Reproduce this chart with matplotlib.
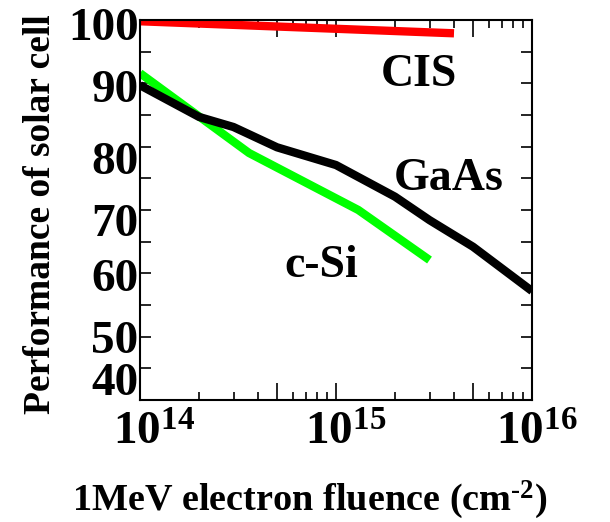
import matplotlib
matplotlib.use("Agg")
import matplotlib.pyplot as plt
import matplotlib.transforms as mtransforms
import numpy as np

# ---- data ----
cis_x = [1e14, 4e15]
cis_y = [99.8, 97.9]

gaas_x = [1e14, 2e14, 3e14, 5e14, 1e15, 2e15, 3e15, 5e15, 1e16]
gaas_y = [89.7, 84.7, 83.1, 79.9, 77.1, 72.1, 68.4, 64.2, 57.2]

csi_x = [1e14, 3.6e14, 1.3e15, 3e15]
csi_y = [91.6, 79.0, 70.0, 62.1]

y_ticks = [40, 50, 60, 70, 80, 90, 100]
x_ticks = [1e14, 1e15, 1e16]
x_ticklabels = [r'$10^{14}$', r'$10^{15}$', r'$10^{16}$']

plt.rcParams['font.family'] = ['Liberation Serif', 'DejaVu Serif']
plt.rcParams['font.weight'] = 'bold'
plt.rcParams['mathtext.fontset'] = 'custom'
plt.rcParams['mathtext.rm'] = 'Liberation Serif:bold'
plt.rcParams['mathtext.bf'] = 'Liberation Serif:bold'
plt.rcParams['mathtext.it'] = 'Liberation Serif:bold'
plt.rcParams['mathtext.default'] = 'rm'

W, H = 610, 522
fig = plt.figure(figsize=(W / 100, H / 100), dpi=100)
ax = fig.add_axes([140 / W, (H - 400) / H, 392 / W, 380 / H])

ax.plot(cis_x, cis_y, color='#ff0000', lw=6, solid_capstyle='butt')
ax.plot(csi_x, csi_y, color='#00ff00', lw=6, solid_capstyle='butt')
ax.plot(gaas_x, gaas_y, color='black', lw=6, solid_capstyle='butt')

ax.set_xscale('log')
ax.set_xlim(1e14, 1e16)
ax.set_ylim(40, 100)

# x ticks
major_x = [1e14, 5e14, 1e15, 5e15, 1e16]
ax.set_xticks(major_x)
ax.set_xticklabels([x_ticklabels[0], '', x_ticklabels[1], '', x_ticklabels[2]])
minor_x = [m * 10 ** d for d in (14, 15) for m in (2, 3, 4, 6, 7, 8, 9)]
ax.set_xticks(minor_x, minor=True)
ax.xaxis.set_minor_formatter(matplotlib.ticker.NullFormatter())

# y ticks (labels drawn as texts slightly offset, like the reference)
ax.set_yticks(y_ticks)
ax.set_yticklabels([''] * len(y_ticks))
ax.set_yticks(np.arange(45, 100, 10), minor=True)

ax.tick_params(axis='both', which='both', direction='in', top=True, right=True,
               width=1.2, color='black')
ax.tick_params(axis='x', which='major', length=12, pad=9, labelsize=34)
ax.tick_params(axis='x', which='minor', length=6)
ax.tick_params(axis='y', which='both', length=8, pad=2)

for s in ax.spines.values():
    s.set_linewidth(1.5)

for lab in ax.get_xticklabels():
    lab.set_fontweight('bold')

# x tick labels shifted a little to the right
xoff = [14, 0, 10, 0, 5]
for lab, off in zip(ax.get_xticklabels(), xoff):
    lab.set_transform(lab.get_transform() +
                      mtransforms.ScaledTranslation(off / 100, 0, fig.dpi_scale_trans))

ylab_off_px = [-16, 5, 7, 15, 16, 8, 9]   # downward shift in pixels
blend = mtransforms.blended_transform_factory(ax.transAxes, ax.transData)
for v, off in zip(y_ticks, ylab_off_px):
    tr = blend + mtransforms.ScaledTranslation(0, -off / 100, fig.dpi_scale_trans)
    ax.text(-0.004, v, str(v), transform=tr, fontsize=34, fontweight='bold',
            ha='right', va='center')

# annotations
ax.text(10 ** 15.423, 89.6, 'CIS', fontsize=33, fontweight='bold',
        ha='center', va='baseline')
ax.text(10 ** 15.574, 73.2, 'GaAs', fontsize=33, fontweight='bold',
        ha='center', va='baseline')
ax.text(10 ** 14.923, 59.4, 'c-Si', fontsize=33, fontweight='bold',
        ha='center', va='baseline')

# axis labels
fig.text(310 / W, 1 - 510 / H, r'1MeV electron fluence (cm$^{\text{-2}}$)',
         fontsize=27.5, fontweight='bold', ha='center', va='baseline')
fig.text(41 / W, 1 - 214 / H, 'Performance of solar cell', fontsize=27,
         fontweight='bold', rotation=90, ha='center', va='center')

fig.savefig('out.png', dpi=100)
